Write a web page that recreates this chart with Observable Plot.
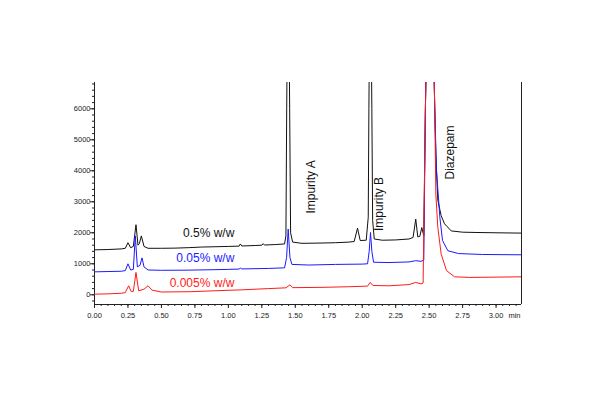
<!DOCTYPE html>
<html>
<head>
<meta charset="utf-8">
<script src="https://cdn.jsdelivr.net/npm/d3@7"></script>
<script src="https://cdn.jsdelivr.net/npm/@observablehq/plot@0.6"></script>
<style>
  html, body { margin: 0; padding: 0; background: #fff; }
  #chart svg { display: block; }
</style>
</head>
<body>
<div id="chart"></div>
<script>
// ---- data (retention time in min, detector response) ----
const trace05 = [
  [0.00,1450],[0.10,1460],[0.20,1480],[0.23,1500],[0.25,1680],[0.27,1520],[0.29,1560],
  [0.31,2260],[0.325,1600],[0.335,1650],[0.35,1900],[0.37,1560],[0.40,1500],[0.50,1500],
  [0.60,1505],[0.70,1520],[0.80,1540],[0.90,1550],[1.00,1560],[1.08,1570],[1.09,1640],
  [1.10,1575],[1.20,1590],[1.25,1600],[1.26,1650],[1.27,1605],[1.35,1620],[1.42,1640],
  [1.43,1900],[1.436,6000],[1.447,12000],[1.458,6000],[1.465,2000],[1.48,1700],[1.55,1660],
  [1.70,1670],[1.80,1680],[1.90,1700],[1.94,1720],[1.965,2150],[1.985,1750],[2.03,1760],
  [2.045,2500],[2.05,6000],[2.061,12000],[2.072,6000],[2.078,2400],[2.09,1800],[2.15,1760],
  [2.25,1770],[2.35,1800],[2.38,1850],[2.40,2440],[2.415,1870],[2.43,1880],[2.445,2170],
  [2.46,1900],[2.472,6000],[2.505,14000],[2.542,6000],[2.55,4500],[2.565,3050],[2.59,2550],
  [2.615,2290],[2.665,2060],[2.75,2020],[2.85,2010],[3.00,2000],[3.19,1990]
];
const trace005 = [
  [0.00,740],[0.10,750],[0.20,760],[0.23,780],[0.25,1000],[0.27,800],[0.29,820],
  [0.305,1900],[0.32,900],[0.34,950],[0.355,1190],[0.37,900],[0.40,800],[0.50,790],
  [0.70,795],[0.90,810],[1.00,820],[1.08,830],[1.09,860],[1.10,835],[1.30,850],[1.42,870],
  [1.435,1200],[1.447,2120],[1.46,1200],[1.475,980],[1.60,960],[1.80,980],[2.00,990],
  [2.04,1000],[2.052,1400],[2.062,2010],[2.072,1400],[2.085,1050],[2.20,1040],[2.35,1060],
  [2.40,1100],[2.44,1080],[2.46,1120],[2.472,6000],[2.505,14000],[2.542,6000],[2.555,4000],
  [2.58,2500],[2.60,1750],[2.64,1420],[2.72,1330],[2.90,1300],[3.19,1290]
];
const trace0005 = [
  [0.00,20],[0.10,30],[0.20,50],[0.23,70],[0.255,290],[0.275,100],[0.29,110],[0.31,720],
  [0.33,130],[0.37,180],[0.40,290],[0.43,150],[0.50,90],[0.72,100],[0.90,130],[1.10,160],
  [1.30,200],[1.43,225],[1.46,320],[1.48,230],[1.70,240],[1.90,260],[2.04,280],[2.06,400],
  [2.08,300],[2.20,290],[2.35,330],[2.40,400],[2.44,350],[2.455,380],[2.472,6000],
  [2.505,14000],[2.542,6000],[2.55,3250],[2.565,2170],[2.59,1310],[2.63,780],[2.69,580],
  [2.80,560],[3.00,570],[3.19,580]
];
const seriesNames  = ["0.5% w/w", "0.05% w/w", "0.005% w/w"];
const seriesColors = ["#111111", "#1a1aff", "#ff1a1a"];
const seriesLabelT = [1.045, 1.045, 1.045];
const seriesLabelV = [2000, 1190, 390];

const peakNames = ["Impurity A", "Impurity B", "Diazepam"];
const peakLabelT = [1.62, 2.13, 2.66];
const peakLabelV = [3480, 2930, 4590];

const xTicks = [0, 0.25, 0.5, 0.75, 1.0, 1.25, 1.5, 1.75, 2.0, 2.25, 2.5, 2.75, 3.0];
const yTicks = [0, 1000, 2000, 3000, 4000, 5000, 6000];
const xDomain = [0, 3.19];
const yDomain = [-313, 6848];
const xUnit = "min";

// ---- derived ----
const traces = [trace05, trace005, trace0005];
const xMinor = d3.range(0, 64).map(i => +(i * 0.05).toFixed(2)).filter(v => v <= xDomain[1]);
const yMinor = d3.range(-1, 35).map(i => i * 200).filter(v => v >= yDomain[0] && v <= yDomain[1]);
const seriesLabels = seriesNames.map((n, i) => ({t: seriesLabelT[i], v: seriesLabelV[i], text: n, color: seriesColors[i]}));
const peakLabels = peakNames.map((n, i) => ({t: peakLabelT[i], v: peakLabelV[i], text: n}));

const font = "'Liberation Sans', Arial, sans-serif";

const chart = Plot.plot({
  width: 600,
  height: 400,
  marginLeft: 94,
  marginRight: 79,
  marginTop: 82,
  marginBottom: 96,
  style: {fontFamily: font, background: "#fff", color: "#222"},
  x: {domain: xDomain},
  y: {domain: yDomain},
  marks: [
    Plot.axisX({ticks: xMinor, tickSize: 2, tickFormat: () => "", label: null}),
    Plot.axisX({ticks: xTicks, tickSize: 4, tickPadding: 4, tickFormat: d3.format(".2f"), fontSize: 7.5, label: null}),
    Plot.axisY({ticks: yMinor, tickSize: 2, tickFormat: () => "", label: null}),
    Plot.axisY({ticks: yTicks, tickSize: 4, tickPadding: 0, tickFormat: d => String(d), fontSize: 7.5, label: null}),
    Plot.ruleX([xDomain[0]], {stroke: "#222"}),
    Plot.ruleX([xDomain[1]], {stroke: "#222"}),
    Plot.ruleY([yDomain[0]], {stroke: "#222"}),
    ...traces.map((tr, i) => Plot.line(tr, {x: d => d[0], y: d => d[1], stroke: seriesColors[i], strokeWidth: 1, clip: true})),
    Plot.text(seriesLabels, {x: "t", y: "v", text: "text", fill: "color", textAnchor: "end", fontSize: 12}),
    Plot.text(peakLabels, {x: "t", y: "v", text: "text", rotate: -90, fill: "#111", fontSize: 12}),
    Plot.text([xUnit], {frameAnchor: "bottom-right", text: d => d, textAnchor: "end", lineAnchor: "middle", dx: -1, dy: 11, fontSize: 7.5, fill: "#222"})
  ]
});
document.getElementById("chart").appendChild(chart);
</script>
</body>
</html>
